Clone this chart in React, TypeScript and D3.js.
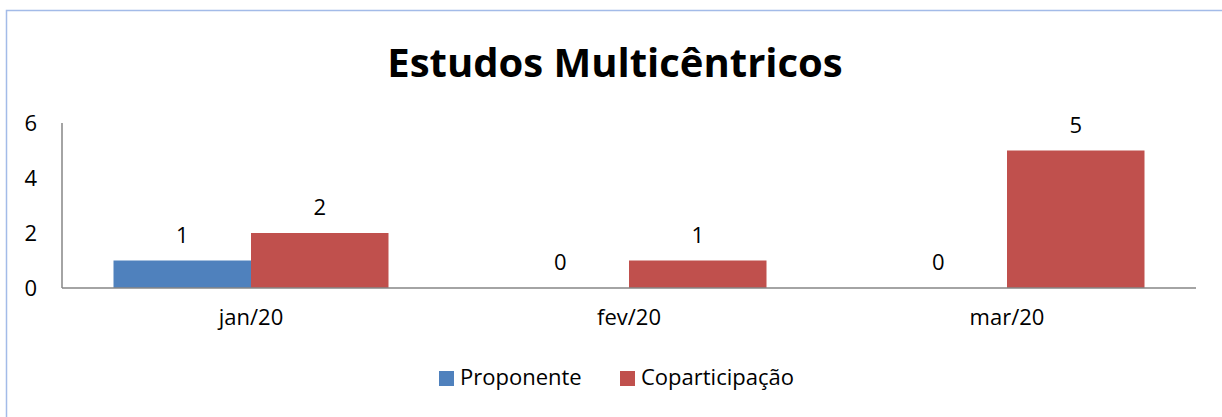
import React, { useEffect, useRef } from 'react';
import * as d3 from 'd3';

const months = ['jan/20', 'fev/20', 'mar/20'];
const seriesNames = ['Proponente', 'Coparticipação'];
const proponente = [1, 0, 0];
const coparticipacao = [2, 1, 5];
const yTicks = [0, 2, 4, 6];
const colors = ['#4F81BD', '#C0504D'];

const FONT = '"Open Sans", "Noto Sans", sans-serif';
const LABEL_SIZE = 22;

const App: React.FC = () => {
  const svgRef = useRef<SVGSVGElement>(null);
  const width = 1222;
  const height = 417;

  useEffect(() => {
    if (!svgRef.current) return;
    const svg = d3.select(svgRef.current);
    svg.selectAll('*').remove();

    // outer chart frame (right and bottom edges fall off the picture)
    svg.append('rect')
      .attr('x', 6.5).attr('y', 10.5)
      .attr('width', 1240).attr('height', 430)
      .attr('fill', 'white')
      .attr('stroke', '#a3bbe8')
      .attr('stroke-width', 1.5);

    svg.append('text')
      .attr('x', 615).attr('y', 77)
      .attr('text-anchor', 'middle')
      .attr('font-family', FONT)
      .attr('font-weight', 'bold')
      .attr('font-size', 40)
      .attr('fill', '#000')
      .text('Estudos Multicêntricos');

    const left = 62, right = 1196, top = 123, bottom = 288;

    const x0 = d3.scaleBand<string>().domain(months).range([left, right]);
    // bar pair takes ~275px of each 378px band
    const groupW = 275;
    const x1 = d3.scaleBand<string>().domain(seriesNames)
      .range([(x0.bandwidth() - groupW) / 2, (x0.bandwidth() + groupW) / 2])
      .padding(0);

    const y = d3.scaleLinear().domain([0, 6]).range([bottom, top]);

    const g = svg.append('g');

    // y axis line
    g.append('line')
      .attr('x1', left).attr('x2', left)
      .attr('y1', top).attr('y2', bottom)
      .attr('stroke', '#868686').attr('stroke-width', 1.5);

    g.selectAll('.ytick')
      .data(yTicks)
      .enter()
      .append('text')
      .attr('x', 37)
      .attr('y', d => y(d))
      .attr('dy', '0.36em')
      .attr('text-anchor', 'end')
      .attr('font-family', FONT)
      .attr('font-size', LABEL_SIZE)
      .attr('fill', '#000')
      .text(d => String(d));

    const seriesData = [proponente, coparticipacao];

    seriesData.forEach((vals, si) => {
      g.selectAll(`.bar${si}`)
        .data(vals)
        .enter()
        .append('rect')
        .attr('x', (_, i) => (x0(months[i]) || 0) + (x1(seriesNames[si]) || 0))
        .attr('y', d => y(d))
        .attr('width', x1.bandwidth())
        .attr('height', d => bottom - y(d))
        .attr('fill', colors[si]);

      g.selectAll(`.lbl${si}`)
        .data(vals)
        .enter()
        .append('text')
        .attr('x', (_, i) => (x0(months[i]) || 0) + (x1(seriesNames[si]) || 0) + x1.bandwidth() / 2)
        .attr('y', d => y(d) - 18)
        .attr('text-anchor', 'middle')
        .attr('font-family', FONT)
        .attr('font-size', LABEL_SIZE)
        .attr('fill', '#000')
        .text(d => String(d));
    });

    // x axis line
    g.append('line')
      .attr('x1', left).attr('x2', right)
      .attr('y1', bottom).attr('y2', bottom)
      .attr('stroke', '#868686').attr('stroke-width', 1.5);

    g.selectAll('.xlbl')
      .data(months)
      .enter()
      .append('text')
      .attr('x', d => (x0(d) || 0) + x0.bandwidth() / 2)
      .attr('y', 325)
      .attr('text-anchor', 'middle')
      .attr('font-family', FONT)
      .attr('font-size', LABEL_SIZE)
      .attr('fill', '#000')
      .text(d => d);

    // legend
    const legendX = [439, 620];
    const legend = svg.append('g');
    seriesNames.forEach((name, i) => {
      legend.append('rect')
        .attr('x', legendX[i]).attr('y', 371)
        .attr('width', 15).attr('height', 15)
        .attr('fill', colors[i]);
      legend.append('text')
        .attr('x', legendX[i] + 21).attr('y', 385)
        .attr('font-family', FONT)
        .attr('font-size', LABEL_SIZE)
        .attr('fill', '#000')
        .text(name);
    });
  }, []);

  return (
    <svg
      ref={svgRef}
      width={width}
      height={height}
      style={{ position: 'absolute', left: 0, top: 0, background: 'white' }}
    />
  );
};

export default App;
